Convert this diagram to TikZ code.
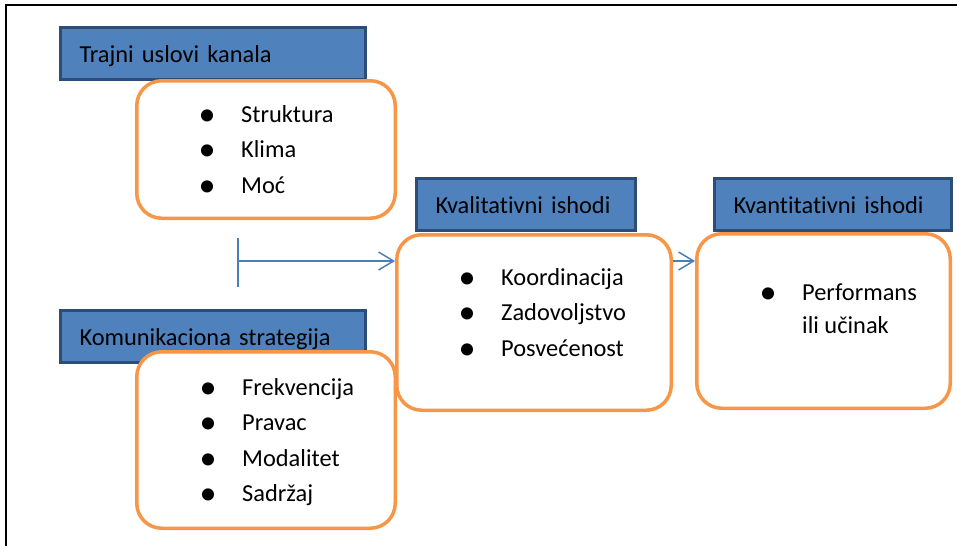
\documentclass[tikz,border=0pt]{standalone}
\usepackage{fontspec}
\setmainfont{Carlito}[Ligatures=CommonOff]
\usepackage{xcolor}
\usepackage{graphicx}
\usetikzlibrary{positioning}
\usetikzlibrary{arrows.meta}

\definecolor{hdrblue}{HTML}{4F81BD}
\definecolor{hdrline}{HTML}{2C4D75}
\definecolor{boxorange}{HTML}{F79646}
\definecolor{arrowblue}{HTML}{4A7EBB}

\newcommand{\bodyfont}{\fontsize{24.4}{29}\selectfont}
\newcommand{\bigbullet}{\raisebox{-3pt}{\scalebox{1.4}{\textbullet}}}

\tikzset{
  header/.style={draw=hdrline, fill=hdrblue, line width=3pt, inner xsep=19pt, align=left,
    text height=22pt, text depth=5pt, minimum height=52pt, anchor=north west, font=\bodyfont},
  listbox/.style={draw=boxorange, fill=white, line width=3.5pt, rounded corners=25pt,
    inner sep=0pt, anchor=north west},
  item/.style={anchor=base west, inner sep=0pt, font=\bodyfont,
    execute at begin node={\makebox[20pt]{\bigbullet}\hspace{24pt}}},
  link/.style={draw=arrowblue, line width=1.5pt, -{Straight Barb[length=15pt,width=18pt]}}
}

\begin{document}
\begin{tikzpicture}[x=1pt, y=-1pt]
  \useasboundingbox (0,0) rectangle (957,546);
  \draw[line width=2pt] (6,546) -- (6,5) -- (957,5);

  % headers
  \node[header, text width=267pt] (uslovi_hdr) at (59,26) {Trajni uslovi kanala};
  \node[header, text width=267pt] (strat_hdr) at (59,309) {Komunikaciona strategija};
  \node[header, text width=181pt] (kval_hdr) at (415,177) {Kvalitativni ishodi};
  \node[header, text width=199pt] (kvant_hdr) at (713,177) {Kvantitativni ishodi};

  % boxes
  \node[listbox, minimum width=258.5pt, minimum height=137.5pt] (uslovi) at (135,79) {};
  \node[listbox, minimum width=258.5pt, minimum height=176.5pt] (strat) at (135,350) {};
  \node[listbox, minimum width=274.5pt, minimum height=175.5pt] (kval) at (395,233) {};
  \node[listbox, minimum width=253.5pt, minimum height=174.5pt] (kvant) at (695,232) {};

  % items
  \foreach \txt [count=\i] in {Struktura, Klima, Moć}
    \node[item] (uslovi\i) at (197, {122+35.5*(\i-1)}) {\txt};
  \foreach \txt [count=\i] in {Frekvencija, Pravac, Modalitet, Sadržaj}
    \node[item] (strat\i) at (198, {395+35.5*(\i-1)}) {\txt};
  \foreach \txt [count=\i] in {Koordinacija, Zadovoljstvo, Posvećenost}
    \node[item] (kval\i) at (457, {285+35.5*(\i-1)}) {\txt};
  \node[item] (kvant1) at (758,300) {Performans};
  \node[anchor=base west, inner sep=0pt, font=\bodyfont] (kvant2) at (802,333) {ili učinak};

  % arrows
  \coordinate (split) at (238,261);
  \coordinate (bartop) at (238,238);
  \coordinate (barbot) at (238,287);
  \draw[arrowblue, line width=1.5pt] (bartop) -- (barbot);
  \draw[link] (split) -- (split -| kval.west);
  \draw[link] (kval.east |- split) -- (kvant.west |- split);
\end{tikzpicture}
\end{document}
